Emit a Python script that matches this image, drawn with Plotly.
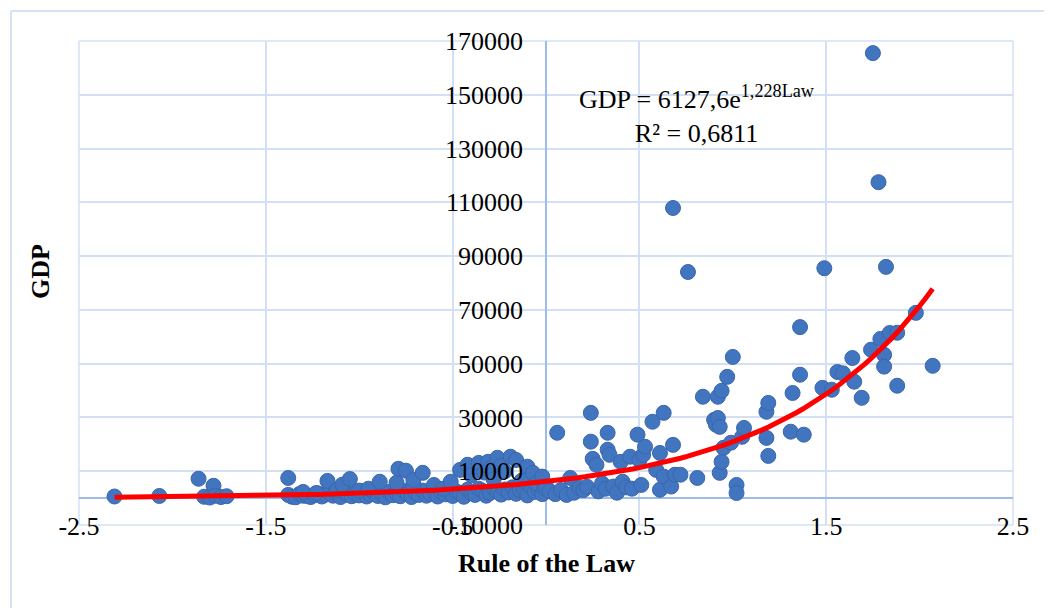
import math
import plotly.graph_objects as go

# ---- data ----
rule_of_law = [
    -2.31, -2.07, -1.86, -1.78, -1.83, -1.80, -1.77, -1.74, -1.71,
    -1.38, -1.38, -1.36, -1.34, -1.32, -1.30, -1.28, -1.26, -1.24, -1.22, -1.20,
    -1.18, -1.16, -1.14, -1.12, -1.10, -1.08, -1.06, -1.04, -1.02, -1.00,
    -0.98, -0.96, -0.94, -0.92, -0.90, -0.88, -0.86, -0.84, -0.82, -0.80,
    -0.78, -0.76, -0.74, -0.72, -0.70, -0.68, -0.66, -0.64, -0.62, -0.60,
    -0.58, -0.56, -0.54, -0.52, -0.50, -0.48, -0.46, -0.44, -0.42, -0.40,
    -0.38, -0.36, -0.34, -0.32, -0.30, -0.28, -0.26, -0.24, -0.22, -0.20,
    -0.18, -0.16, -0.14, -0.12, -0.10, -0.08, -0.06, -0.04, -0.02,
    -1.30, -1.23, -1.17, -1.12, -1.09, -1.05, -1.00, -0.95, -0.89, -0.80,
    -0.79, -0.75, -0.71, -0.71, -0.66, -0.60, -0.55, -0.51, -0.46, -0.42,
    -0.40, -0.36, -0.33, -0.31, -0.30, -0.28, -0.26, -0.24, -0.22, -0.19,
    -0.16, -0.13, -0.10, -0.07, -0.05, -0.02, -0.01,
    0.00, 0.02, 0.05, 0.06, 0.08, 0.11, 0.13, 0.15, 0.18, 0.20, 0.22, 0.24,
    0.24, 0.25, 0.27, 0.28, 0.30, 0.32, 0.33, 0.33, 0.34, 0.36, 0.38, 0.40,
    0.41, 0.43, 0.45, 0.46, 0.49, 0.50, 0.51, 0.52, 0.53, 0.57, 0.59, 0.61,
    0.61, 0.63, 0.63, 0.67, 0.68, 0.69, 0.72, 0.68, 0.76,
    0.81, 0.84, 0.90, 0.91, 0.92, 0.92, 0.93, 0.93, 0.94, 0.94, 0.95, 0.97,
    0.99, 1.00, 1.02, 1.02, 1.05, 1.06,
    1.18, 1.18, 1.19, 1.19, 1.31, 1.32, 1.36, 1.36, 1.38,
    1.48, 1.49, 1.53, 1.56, 1.59, 1.64, 1.65, 1.69, 1.74, 1.79, 1.81, 1.81,
    1.84, 1.88, 1.88, 1.98, 2.07, 1.75, 1.78, 1.82,
]
gdp = [
    600, 800, 7200, 4600, 500, 200, 900, 400, 700,
    7500, 1200, 500, 300, 1500, 900, 800, 400, 1100, 1700, 600,
    1300, 2000, 900, 1600, 400, 2200, 1200, 700, 1800, 1000,
    2500, 600, 1400, 2000, 800, 1700, 300, 2300, 1100, 1900,
    700, 2600, 1500, 400, 2100, 1200, 2800, 900, 1600, 3000,
    600, 2200, 1400, 3300, 800, 2500, 1800, 500, 3100, 2000,
    1200, 3500, 2700, 900, 1900, 3800, 2400, 1300, 3200, 2100,
    4000, 1600, 2900, 3600, 1000, 4200, 2300, 3400, 1500,
    2300, 1900, 6400, 3000, 5000, 7100, 2800, 3500, 6100, 5700,
    10900, 10200, 5000, 6800, 9400, 4900, 3500, 6100, 10500, 12400,
    8500, 13100, 9500, 13500, 11000, 7000, 15000, 12000, 10000, 15400,
    14200, 6500, 11700, 9400, 5500, 8000, 3800,
    4300, 2500, 1500, 24300, 3000, 1200, 7500, 2000, 3800, 3000, 4200, 31700,
    21000, 14600, 12400, 2500, 5500, 3500, 18000, 24300, 16100, 4300, 2000, 13500,
    6100, 4000, 15400, 3500, 23600, 14200, 4900, 16100, 19100, 28400, 10500, 16800,
    3100, 31700, 8000, 4300, 19800, 8700, 8700, 107900, 84100,
    7500, 37700, 29100, 27300, 37700, 29800, 26500, 9400, 39900, 13500, 18700, 45100,
    20600, 52500, 4900, 1900, 22800, 26100,
    32100, 22400, 35400, 15700, 24700, 39100, 45900, 63600, 23600,
    41000, 85500, 40300, 46900, 46400, 52100, 43300, 37300, 55200, 59200, 53300, 48900,
    61400, 61500, 41800, 68900, 49200, 165500, 117500, 86000,
]

# Exponential trendline as printed on the chart
trend_a = 6127.6
trend_b = 1.228
trend_x = [round(-2.31 + i * (2.07 + 2.31) / 120, 4) for i in range(121)]
trend_y = [trend_a * math.exp(trend_b * v) for v in trend_x]

x_ticks = [-2.5, -1.5, -0.5, 0.5, 1.5, 2.5]
x_tick_text = ["-2.5", "-1.5", "-0.5", "0.5", "1.5", "2.5"]
y_ticks = [-10000, 10000, 30000, 50000, 70000, 90000, 110000, 130000, 150000, 170000]
y_tick_text = ["-10000", "10000", "30000", "50000", "70000", "90000",
               "110000", "130000", "150000", "170000"]

FONT = "Liberation Serif, Times New Roman, serif"
GRID = "#D3E0F3"
ZERO = "#9DBCE6"
BORDER = "#D6E2F3"

fig = go.Figure()
fig.add_trace(go.Scatter(
    x=rule_of_law, y=gdp, mode="markers",
    marker=dict(size=15, color="#4275C0", line=dict(width=1, color="#3A67AC")),
    showlegend=False, hoverinfo="x+y",
))
fig.add_trace(go.Scatter(
    x=trend_x, y=trend_y, mode="lines",
    line=dict(color="#FF0000", width=5), showlegend=False,
))

# page has an 8px body margin; figure sized to fit the 1052x608 window
W, H = 1044, 600
L, R, T, B = 71, 39, 33, 83
pw, ph = W - L - R, H - T - B
bottom_px = H - B

fig.update_layout(
    width=W, height=H,
    margin=dict(l=L, r=R, t=T, b=B, autoexpand=False),
    paper_bgcolor="white", plot_bgcolor="white",
    font=dict(family=FONT, size=26, color="black"),
    xaxis=dict(
        range=[-2.5, 2.5], tickmode="array", tickvals=x_ticks, ticktext=x_tick_text,
        showgrid=True, gridcolor=GRID, gridwidth=1.5,
        zeroline=True, zerolinecolor=ZERO, zerolinewidth=1.5,
        showline=False, anchor="free", position=0.036,
        ticks="", tickfont=dict(size=26), automargin=False,
    ),
    yaxis=dict(
        range=[-10000, 170000], tickmode="array", tickvals=y_ticks, ticktext=y_tick_text,
        showgrid=True, gridcolor=GRID, gridwidth=1.5,
        zeroline=True, zerolinecolor=ZERO, zerolinewidth=1.5,
        showline=False, anchor="free", position=0.5,
        ticks="", ticklabelstandoff=23, tickfont=dict(size=26), automargin=False,
    ),
    shapes=[
        dict(type="line", xref="paper", yref="paper",
             x0=(3 - L) / pw, x1=(W - L + 5) / pw, y0=1 + (T - 3) / ph, y1=1 + (T - 3) / ph,
             line=dict(color=BORDER, width=2)),
        dict(type="line", xref="paper", yref="paper",
             x0=(3 - L) / pw, x1=(3 - L) / pw, y0=1 + (T - 3) / ph, y1=-(B + 5) / ph,
             line=dict(color=BORDER, width=2)),
        dict(type="line", xref="paper", yref="paper",
             x0=0, x1=0, y0=0, y1=1, line=dict(color=GRID, width=1.5), layer="below"),
        dict(type="line", xref="paper", yref="paper",
             x0=1, x1=1, y0=0, y1=1, line=dict(color=GRID, width=1.5), layer="below"),
        dict(type="line", xref="paper", yref="paper",
             x0=0, x1=1, y0=0, y1=0, line=dict(color=GRID, width=1.5), layer="below"),
        dict(type="line", xref="paper", yref="paper",
             x0=0, x1=1, y0=1, y1=1, line=dict(color=GRID, width=1.5), layer="below"),
    ],
    annotations=[
        dict(text="GDP = 6127,6e<sup>1,228Law</sup><br>R² = 0,6811",
             x=0.81, y=142500, xref="x", yref="y", showarrow=False,
             xanchor="center", yanchor="middle", align="center",
             font=dict(size=26, family=FONT)),
        dict(text="<b>GDP</b>", x=(32 - L) / pw, y=(bottom_px - 264) / ph,
             xref="paper", yref="paper", textangle=-90, showarrow=False,
             xanchor="center", yanchor="middle", font=dict(size=26, family=FONT)),
        dict(text="<b>Rule of the Law</b>", x=0.5, y=(bottom_px - 555) / ph,
             xref="paper", yref="paper", showarrow=False,
             xanchor="center", yanchor="middle", font=dict(size=26, family=FONT)),
    ],
)

fig.write_html("out.html")
